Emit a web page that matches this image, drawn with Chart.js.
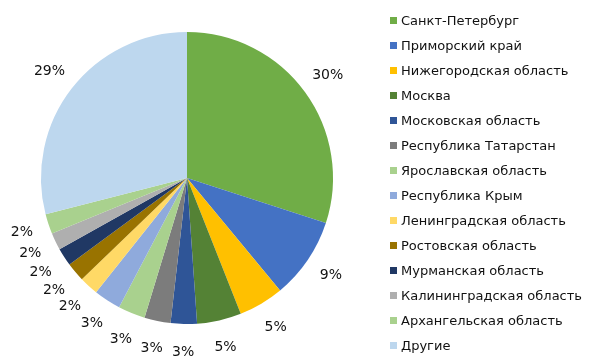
<!DOCTYPE html>
<html>
<head>
<meta charset="utf-8">
<script src="https://cdn.jsdelivr.net/npm/chart.js@4.4.0/dist/chart.umd.min.js"></script>
<style>
  html, body { margin: 0; padding: 0; background: #fff; }
  #wrap { position: relative; width: 600px; height: 360px; overflow: hidden; }
  #c { position: absolute; left: 0; top: 0; }
  #legend { position: absolute; left: 390px; top: 8px; margin: 0; padding: 0; list-style: none;
            font-family: "DejaVu Sans", sans-serif; font-size: 13px; color: #111; }
  #legend li { height: 25px; display: flex; align-items: center; white-space: nowrap; }
  #legend .sw { width: 7px; height: 7px; margin-right: 4px; flex: none; }
</style>
</head>
<body>
<div id="wrap">
  <canvas id="c" width="600" height="360"></canvas>
  <ul id="legend"></ul>
</div>
<script>
const regions = [
  'Санкт-Петербург',
  'Приморский край',
  'Нижегородская область',
  'Москва',
  'Московская область',
  'Республика Татарстан',
  'Ярославская область',
  'Республика Крым',
  'Ленинградская область',
  'Ростовская область',
  'Мурманская область',
  'Калининградская область',
  'Архангельская область',
  'Другие'
];
const shares = [30.0, 9.0, 5.0, 4.9, 2.9, 2.9, 3.0, 3.0, 2.1, 2.1, 2.0, 1.9, 2.2, 29.0];
const pctLabels = ['30%', '9%', '5%', '5%', '3%', '3%', '3%', '3%', '2%', '2%', '2%', '2%', '2%', '29%'];
const colors = [
  '#70AD47', '#4472C4', '#FFC000', '#548235', '#2F5597', '#7C7C7C', '#A9D18E',
  '#8FAADC', '#FFD966', '#997300', '#203864', '#AFAFAF', '#A9D18E', '#BDD7EE'
];

const outLabels = {
  id: 'outLabels',
  afterDatasetsDraw(chart) {
    const ctx = chart.ctx;
    const meta = chart.getDatasetMeta(0);
    ctx.save();
    ctx.font = '14px "DejaVu Sans", sans-serif';
    ctx.fillStyle = '#111';
    ctx.textAlign = 'center';
    ctx.textBaseline = 'middle';
    meta.data.forEach((arc, i) => {
      const p = arc.getProps(['x', 'y', 'startAngle', 'endAngle', 'outerRadius'], true);
      const mid = (p.startAngle + p.endAngle) / 2;
      const r = p.outerRadius + 28;
      ctx.fillText(pctLabels[i], p.x + Math.cos(mid) * r, p.y + Math.sin(mid) * r);
    });
    ctx.restore();
  }
};

new Chart(document.getElementById('c'), {
  type: 'pie',
  data: {
    labels: regions,
    datasets: [{
      data: shares,
      backgroundColor: colors,
      borderWidth: 0,
      radius: 146
    }]
  },
  options: {
    responsive: false,
    animation: false,
    layout: { padding: { left: 0, right: 226, top: 0, bottom: 4 } },
    plugins: {
      legend: { display: false },
      tooltip: { enabled: false }
    }
  },
  plugins: [outLabels]
});

const ul = document.getElementById('legend');
regions.forEach((name, i) => {
  const li = document.createElement('li');
  const sw = document.createElement('span');
  sw.className = 'sw';
  sw.style.background = colors[i];
  li.appendChild(sw);
  li.appendChild(document.createTextNode(name));
  ul.appendChild(li);
});
</script>
</body>
</html>
